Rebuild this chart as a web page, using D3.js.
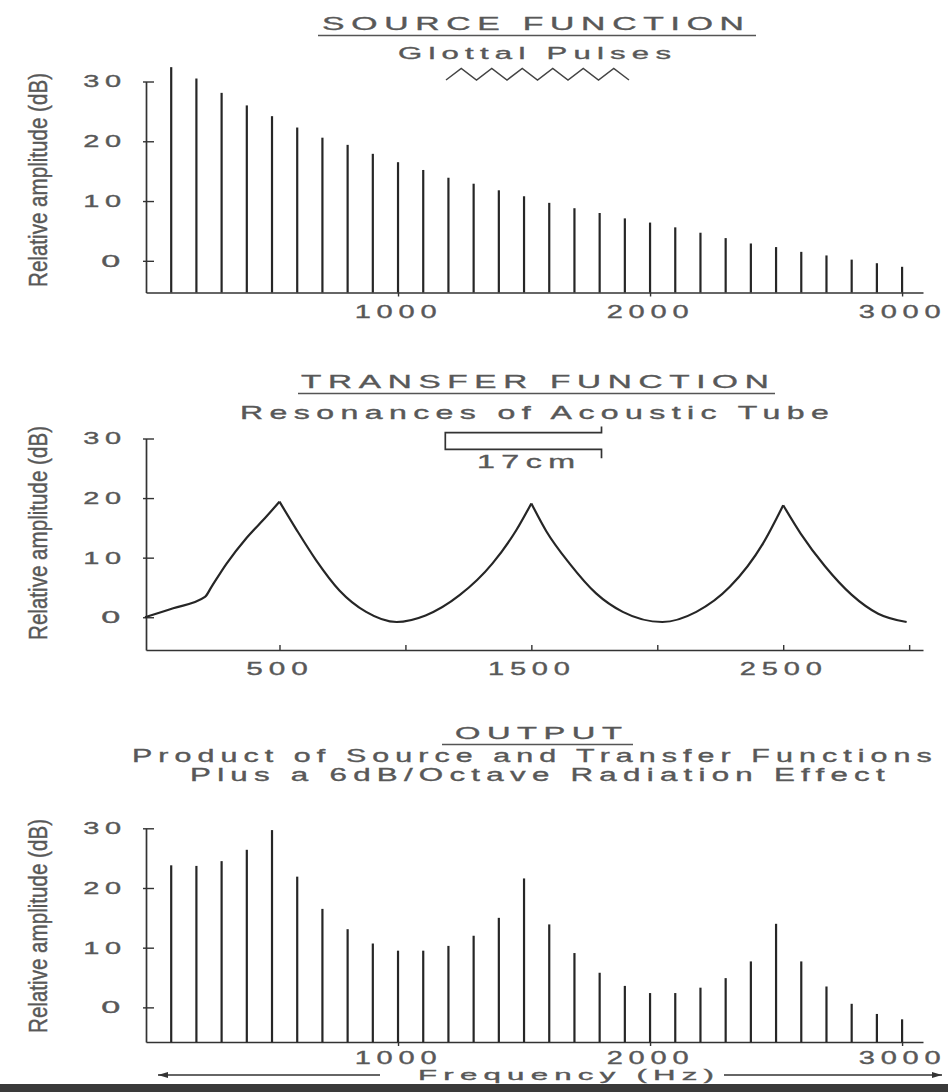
<!DOCTYPE html>
<html>
<head>
<meta charset="utf-8">
<script src="https://cdn.jsdelivr.net/npm/d3@7"></script>
<style>
  body { margin: 0; background: #fff; }
  svg { display: block; }
  text { font-family: "Liberation Sans", Arial, Helvetica, sans-serif; fill: #585858; stroke: #585858; stroke-width: 0.35px; }
</style>
</head>
<body>
<script>
// harmonics of the glottal source (Hz)
var harmonics = [100, 200, 300, 400, 500, 600, 700, 800, 900, 1000,
                 1100, 1200, 1300, 1400, 1500, 1600, 1700, 1800, 1900, 2000,
                 2100, 2200, 2300, 2400, 2500, 2600, 2700, 2800, 2900, 3000];

// source function, dB per harmonic
var sourceDb = [32.4, 30.5, 28.1, 26.0, 24.2, 22.3, 20.6, 19.4, 17.9, 16.5,
                15.2, 13.9, 12.9, 11.8, 10.8, 9.7, 8.8, 8.0, 7.1, 6.4,
                5.6, 4.7, 3.8, 2.9, 2.3, 1.5, 0.9, 0.2, -0.4, -1.0];

// output spectrum, dB per harmonic
var outputDb = [23.8, 23.7, 24.5, 26.4, 29.7, 21.9, 16.5, 13.1, 10.7, 9.5,
                9.5, 10.3, 12.0, 15.0, 21.6, 13.9, 9.1, 5.8, 3.6, 2.4,
                2.4, 3.3, 4.9, 7.7, 14.0, 7.7, 3.5, 0.6, -1.1, -2.0];

// transfer function curve
var tubeFreq = [-34, 78, 204, 230, 290, 369, 448, 500, 566, 645, 738, 844, 965,
                1080, 1215, 1345, 1440, 1500, 1560, 1652, 1757, 1863, 2020,
                2155, 2288, 2420, 2500, 2570, 2665, 2771, 2877, 2990];
var tubeDb = [0.0, 1.5, 3.4, 5.1, 9.0, 13.3, 16.9, 19.4, 14.8, 9.6, 4.5, 0.9, -0.8,
              0.3, 3.7, 9.0, 14.6, 19.1, 14.4, 9.0, 4.0, 0.9, -0.8,
              0.9, 5.1, 12.4, 18.8, 14.0, 8.6, 3.8, 0.6, -0.8];
var tubePeaks = [500, 1500, 2500];

// ticks
var dbTicks = [0, 10, 20, 30];
var freqTicks = [1000, 2000, 3000];
var tubeTicks = [500, 1000, 1500, 2000, 2500, 3000];
var tubeTickLabels = [500, 1500, 2500];

var W = 948, H = 1092;
var svg = d3.select("body").append("svg")
    .attr("width", W)
    .attr("height", H);

// wide, letter-spaced type like the scanned figure:
// letter-spacing plus a horizontal stretch to hit the measured width
function fit(sel, size, width) {
  var ls = size * 0.2;
  sel.style("font-size", size + "px").attr("letter-spacing", ls + "px");
  var ink = sel.node().getComputedTextLength() - ls;
  var s = width / ink;
  var anchor = sel.attr("text-anchor") || d3.select(sel.node().parentNode).attr("text-anchor") || "start";
  var shift = anchor === "end" ? ls * s : anchor === "middle" ? ls * s / 2 : 0;
  var x = +sel.attr("x") || 0, y = +sel.attr("y") || 0;
  sel.attr("x", 0).attr("y", 0)
     .attr("transform", "translate(" + (x + shift) + "," + y + ") scale(" + s + ",1)");
  return sel;
}

function words(x, y, str, size, width) {
  return fit(svg.append("text").attr("x", x).attr("y", y).text(str), size, width);
}

function underline(x1, x2, y) {
  svg.append("line")
    .attr("x1", x1).attr("x2", x2).attr("y1", y).attr("y2", y)
    .attr("stroke", "#555").attr("stroke-width", 1.7);
}

function yLabel(cy) {
  svg.append("text")
    .attr("transform", "translate(47," + cy + ") scale(1.3,1) rotate(-90)")
    .attr("text-anchor", "middle")
    .style("font-size", "20px")
    .attr("textLength", 214)
    .attr("lengthAdjust", "spacingAndGlyphs")
    .text("Relative amplitude (dB)");
}

function axes(x, y, bottom, xTicks, xLabels, xTickSize, xLabelY) {
  var gy = svg.append("g")
      .attr("transform", "translate(" + x.range()[0] + ",0)")
      .attr("color", "#333")
      .call(d3.axisLeft(y).tickValues(dbTicks).tickSizeInner(-8).tickSizeOuter(0).tickPadding(19));
  gy.attr("font-size", null).attr("font-family", null);
  gy.select(".domain").attr("stroke-width", 1.7);
  gy.selectAll(".tick line").attr("stroke-width", 1.4).attr("x1", -3);
  gy.selectAll(".tick text").each(function(d) {
    fit(d3.select(this), 17, String(d).length * 19);
  });

  var gx = svg.append("g")
      .attr("transform", "translate(0," + bottom + ")")
      .attr("color", "#333")
      .call(d3.axisBottom(x).tickValues(xTicks).tickSizeInner(xTickSize).tickSizeOuter(0)
        .tickFormat(function(d) { return xLabels.indexOf(d) >= 0 ? d : ""; }));
  gx.attr("font-size", null).attr("font-family", null);
  gx.select(".domain").attr("stroke-width", 1.7);
  gx.selectAll(".tick line").attr("stroke-width", 1.4);
  gx.selectAll(".tick text").attr("y", xLabelY).attr("dy", "0")
    .filter(function(d) { return xLabels.indexOf(d) >= 0; })
    .each(function(d) {
      fit(d3.select(this), 18.5, String(d).length * 20.5);
    });
}

function bars(x, y, values) {
  var base = y.range()[0];
  svg.append("g").selectAll("line")
    .data(harmonics)
    .enter().append("line")
    .attr("x1", function(d) { return x(d); })
    .attr("x2", function(d) { return x(d); })
    .attr("y1", base)
    .attr("y2", function(d, i) { return y(values[i]); })
    .attr("stroke", "#262626")
    .attr("stroke-width", 2.2);
}

// ---------- SOURCE FUNCTION ----------
var x1 = d3.scaleLinear().domain([0, 3083]).range([146, 923]);
var y1 = d3.scaleLinear().domain([-5.3, 30]).range([292.5, 81.5]);

words(322, 29.5, "SOURCE FUNCTION", 17.5, 422);
underline(318, 756, 35.5);
words(398, 59, "Glottal Pulses", 17, 273);

// little glottal pulse zigzag
var zig = [];
for (var k = 0; k <= 12; k++) {
  zig.push([446 + k * 15.25, k % 2 ? 68.5 : 80]);
}
svg.append("path")
  .attr("d", d3.line()(zig))
  .attr("fill", "none").attr("stroke", "#444").attr("stroke-width", 1.5);

axes(x1, y1, 292.5, freqTicks, freqTicks, 4, 25);
bars(x1, y1, sourceDb);
yLabel(180);

// ---------- TRANSFER FUNCTION ----------
var x2 = d3.scaleLinear().domain([-30, 3055]).range([146, 923]);
var y2 = d3.scaleLinear().domain([-5.5, 30]).range([650, 438.5]);

words(301, 388.3, "TRANSFER FUNCTION", 18, 468);
underline(298, 775, 393.5);
words(240, 419.3, "Resonances of Acoustic Tube", 17.5, 589);

// 17 cm tube sketch
svg.append("path")
  .attr("d", "M601.5,426.5V432.7H445.3V449.3H601.5V458.3")
  .attr("fill", "none").attr("stroke", "#333").attr("stroke-width", 1.7);
words(477, 468.3, "17cm", 18, 98);

axes(x2, y2, 650, tubeTicks, tubeTickLabels, -5, 25);

// curve drawn piecewise so the resonance peaks stay sharp
var tubePts = tubeFreq.map(function(f, i) { return [f, tubeDb[i]]; });
var cuts = [0].concat(tubePeaks.map(function(p) { return tubeFreq.indexOf(p); }), [tubeFreq.length - 1]);
var segs = [];
for (var s = 0; s < cuts.length - 1; s++) segs.push(tubePts.slice(cuts[s], cuts[s + 1] + 1));
var tubeLine = d3.line()
    .x(function(d) { return x2(d[0]); })
    .y(function(d) { return y2(d[1]); })
    .curve(d3.curveMonotoneX);
svg.append("g").selectAll("path")
  .data(segs)
  .enter().append("path")
  .attr("d", tubeLine)
  .attr("fill", "none")
  .attr("stroke", "#262626")
  .attr("stroke-width", 2.2);

yLabel(533);

// ---------- OUTPUT ----------
var x3 = d3.scaleLinear().domain([0, 3083]).range([146, 923]);
var y3 = d3.scaleLinear().domain([-5.8, 30]).range([1042, 828.3]);

words(455, 739.3, "OUTPUT", 17, 167);
underline(442, 633, 744.5);
words(132, 762, "Product of Source and Transfer Functions", 17.5, 800);
words(190, 780.5, "Plus a 6dB/Octave Radiation Effect", 17.5, 695);

axes(x3, y3, 1042, freqTicks, freqTicks, 4, 21.5);
bars(x3, y3, outputDb);
yLabel(926);

// frequency arrows
var defs = svg.append("defs");
defs.append("marker")
  .attr("id", "arrow")
  .attr("viewBox", "0 0 10 6")
  .attr("refX", 10).attr("refY", 3)
  .attr("markerWidth", 12).attr("markerHeight", 6)
  .attr("markerUnits", "userSpaceOnUse")
  .attr("orient", "auto")
  .append("path").attr("d", "M0,0L10,3L0,6Z").attr("fill", "#333");

svg.append("line").attr("x1", 380).attr("x2", 158).attr("y1", 1075).attr("y2", 1075)
  .attr("stroke", "#333").attr("stroke-width", 1.5).attr("marker-end", "url(#arrow)");
svg.append("line").attr("x1", 724).attr("x2", 942).attr("y1", 1075).attr("y2", 1075)
  .attr("stroke", "#333").attr("stroke-width", 1.5).attr("marker-end", "url(#arrow)");

// dark strip along the bottom edge of the scan
svg.append("rect")
  .attr("x", 0).attr("y", 1084).attr("width", W).attr("height", H - 1084)
  .attr("fill", "#3a3a3a");

words(418, 1080, "Frequency (Hz)", 15, 296);
</script>
</body>
</html>
